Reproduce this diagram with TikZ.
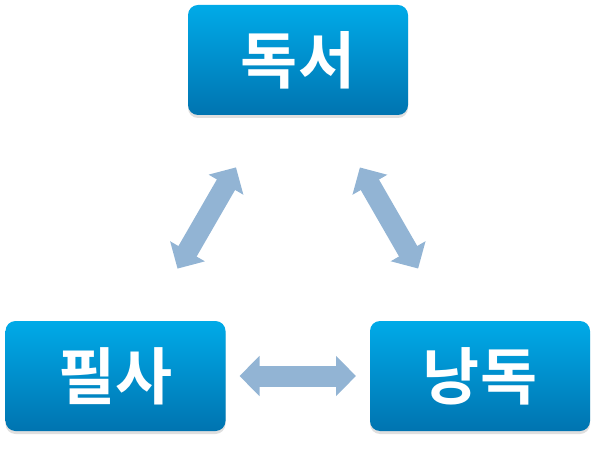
\documentclass[tikz,border=0pt]{standalone}
\usepackage{fontspec}
\newfontfamily\krfont{Noto Sans CJK KR}[BoldFont={Noto Sans CJK KR Bold}]
\usetikzlibrary{arrows.meta,shadows}
\definecolor{boxtop}{RGB}{0,170,232}
\definecolor{boxbot}{RGB}{0,116,176}
\definecolor{arrblue}{RGB}{146,180,212}

\begin{document}
\begin{tikzpicture}[
  x=1bp, y=-1bp,
  box/.style={rounded corners=10bp, minimum width=220bp, minimum height=110bp,
    top color=boxtop, bottom color=boxbot, text=white, inner sep=0pt,
    font=\krfont\bfseries\fontsize{62bp}{62bp}\selectfont,
    drop shadow={shadow xshift=0bp, shadow yshift=-3bp, opacity=0.25}},
  arr/.style={arrblue, line width=21bp,
    {Triangle[width=39bp, length=20bp]}-{Triangle[width=39bp, length=20bp]},
    shorten <=124bp, shorten >=124bp},
]
\useasboundingbox (0,0) rectangle (596,450);
\node[box] (doks) at (298,60) {독서};
\node[box] (pils) at (115.5,376) {필사};
\node[box] (nang) at (480,376) {낭독};
\draw[arr] (doks.center) -- (pils.center);
\draw[arr] (doks.center) -- (nang.center);
\draw[arr] (pils.center) -- (nang.center);
\end{tikzpicture}
\end{document}
